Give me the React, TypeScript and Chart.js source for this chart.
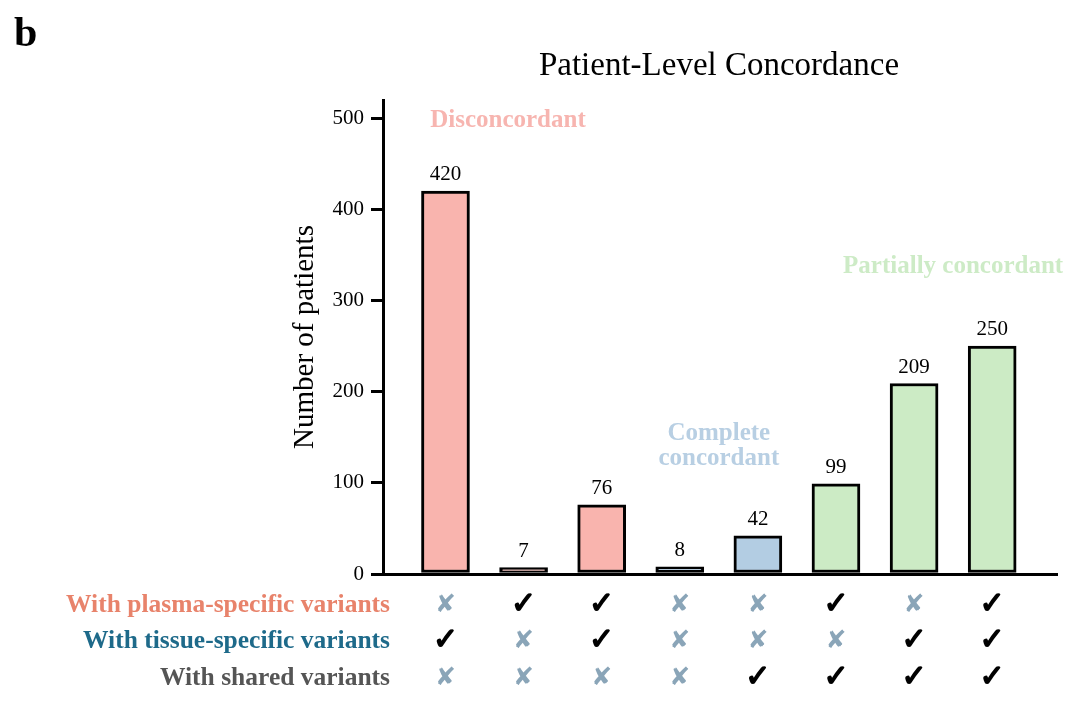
import React, {useEffect, useRef} from 'react'
import {Chart, registerables} from 'chart.js'

Chart.register(...registerables)

const counts = [420, 7, 76, 8, 42, 99, 209, 250]
const groups = ['dis', 'dis', 'dis', 'comp', 'comp', 'part', 'part', 'part']
const plasmaRow = [0, 1, 1, 0, 0, 1, 0, 1]
const tissueRow = [1, 0, 1, 0, 0, 0, 1, 1]
const sharedRow = [0, 0, 0, 0, 1, 1, 1, 1]
const rowLabels = ['With plasma-specific variants', 'With tissue-specific variants', 'With shared variants']
const rowColors = ['#E8836B', '#1E6A8A', '#555555']
const yTicks = [0, 100, 200, 300, 400, 500]

const groupColors: Record<string, string> = {
  dis: '#F9B4AE',
  comp: '#B3CDE3',
  part: '#CCEBC5',
}

const SERIF = '"Liberation Serif", "Times New Roman", serif'

const textPlugin = {
  id: 'texts',
  afterDraw(chart: any) {
    const {ctx, scales} = chart
    const xs = scales.x
    const ys = scales.y
    ctx.save()
    ctx.fillStyle = '#000'

    // panel letter
    ctx.font = `bold 42px ${SERIF}`
    ctx.textAlign = 'left'
    ctx.textBaseline = 'alphabetic'
    ctx.fillText('b', 14, 46)

    // title
    ctx.font = `33px ${SERIF}`
    ctx.textAlign = 'center'
    ctx.textBaseline = 'middle'
    ctx.fillText('Patient-Level Concordance', 719, 66)

    // y title
    ctx.save()
    ctx.translate(305, 337)
    ctx.rotate(-Math.PI / 2)
    ctx.font = `29px ${SERIF}`
    ctx.fillText('Number of patients', 0, 0)
    ctx.restore()

    // value labels
    const meta = chart.getDatasetMeta(0)
    ctx.font = `21px ${SERIF}`
    ctx.textBaseline = 'bottom'
    meta.data.forEach((el: any, i: number) => {
      ctx.fillText(String(counts[i]), el.x, el.y - 6)
    })

    // group annotations
    ctx.font = `bold 25px ${SERIF}`
    ctx.textBaseline = 'middle'
    ctx.fillStyle = '#F7B5B0'
    ctx.fillText('Disconcordant', xs.getPixelForValue(0.8), ys.getPixelForValue(497))
    ctx.fillStyle = '#B8CFE3'
    ctx.fillText('Complete', xs.getPixelForValue(3.5), ys.getPixelForValue(154))
    ctx.fillText('concordant', xs.getPixelForValue(3.5), ys.getPixelForValue(127))
    ctx.fillStyle = '#CDEBC6'
    ctx.fillText('Partially concordant', xs.getPixelForValue(6.5), ys.getPixelForValue(337))

    // indicator rows
    const rows = [plasmaRow, tissueRow, sharedRow]
    const rowY = [605, 641, 678]
    rows.forEach((row, r) => {
      ctx.font = `bold 25.5px ${SERIF}`
      ctx.textAlign = 'right'
      ctx.fillStyle = rowColors[r]
      ctx.fillText(rowLabels[r], 390, rowY[r])
      ctx.textAlign = 'center'
      row.forEach((v, i) => {
        const x = xs.getPixelForValue(i)
        if (v) {
          ctx.font = `30px "DejaVu Sans"`
          ctx.fillStyle = '#000'
          ctx.strokeStyle = '#000'
          ctx.lineWidth = 1.6
          ctx.fillText('\u2713', x, rowY[r])
          ctx.strokeText('\u2713', x, rowY[r])
        } else {
          ctx.font = `25px "DejaVu Sans"`
          ctx.fillStyle = '#8AA5B8'
          ctx.fillText('\u2718', x, rowY[r])
        }
      })
    })
    ctx.restore()
  },
}

const App: React.FC = () => {
  const chartRef = useRef<HTMLCanvasElement | null>(null)

  useEffect(() => {
    document.body.style.margin = '0'
    if (!chartRef.current) {
      return
    }
    const chart = new Chart(chartRef.current, {
      type: 'bar',
      data: {
        datasets: [
          {
            data: counts.map((v, i) => ({x: i, y: v})),
            backgroundColor: groups.map((g) => groupColors[g]),
            borderColor: '#000',
            borderWidth: 3,
            borderSkipped: false,
            barThickness: 48,
          },
        ],
      },
      options: {
        animation: false,
        responsive: false,
        devicePixelRatio: 1,
        layout: {padding: {left: 0, top: 100, right: 23, bottom: 132}},
        plugins: {legend: {display: false}, tooltip: {enabled: false}, title: {display: false}},
        scales: {
          x: {
            type: 'linear',
            min: -0.8,
            max: 7.83,
            offset: false,
            ticks: {display: false},
            grid: {display: false, offset: false},
            border: {display: true, color: '#000', width: 3},
            afterFit: (scale: any) => {
              scale.height = 0
            },
          },
          y: {
            min: 0,
            max: 520,
            afterBuildTicks: (scale: any) => {
              scale.ticks = yTicks.map((v) => ({value: v}))
            },
            ticks: {
              color: '#000',
              font: {family: SERIF, size: 21},
              padding: 7,
            },
            grid: {
              display: true,
              drawOnChartArea: false,
              drawTicks: true,
              tickLength: 12,
              lineWidth: 3,
              color: '#000',
            },
            border: {display: true, color: '#000', width: 3},
            afterFit: (scale: any) => {
              scale.width = 383
            },
          },
        },
      },
      plugins: [textPlugin],
    } as any)
    return () => chart.destroy()
  }, [])

  return (
    <div style={{position: 'absolute', left: 0, top: 0, width: 1080, height: 706, background: '#fff'}}>
      <canvas ref={chartRef} width={1080} height={706} style={{width: 1080, height: 706}} />
    </div>
  )
}

export default App
